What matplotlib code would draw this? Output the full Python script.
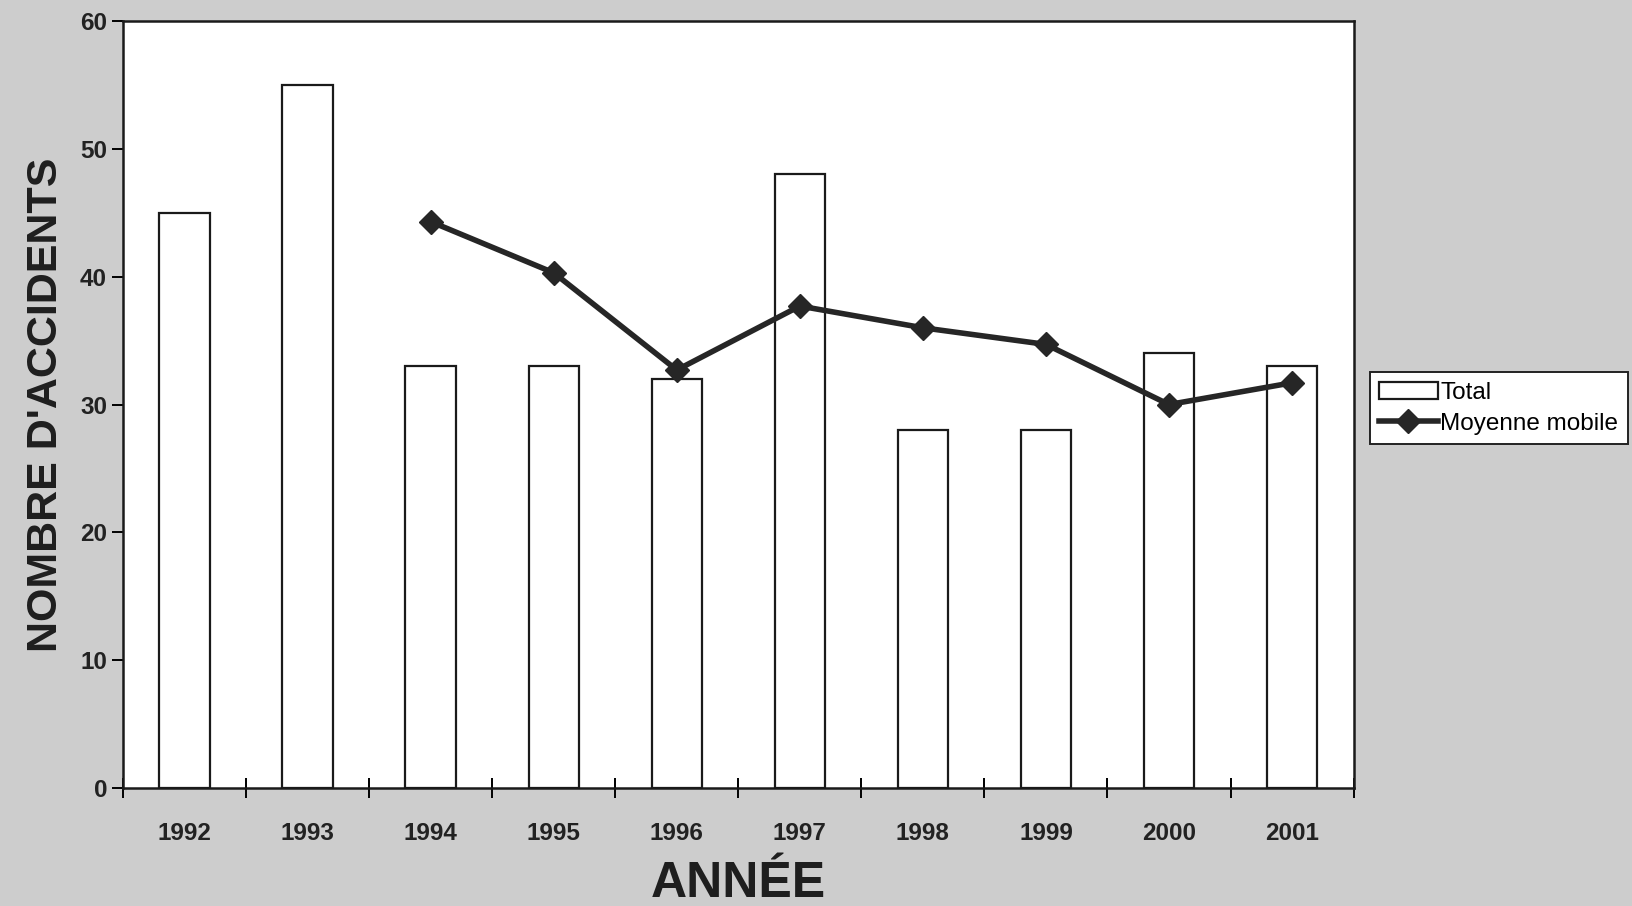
import numpy as np
import matplotlib.pyplot as plt

annees = ['1992', '1993', '1994', '1995', '1996', '1997', '1998', '1999', '2000', '2001']
total = [45, 55, 33, 33, 32, 48, 28, 28, 34, 33]
# moyenne mobile (3 ans), debute en 1994
annees_mm = ['1994', '1995', '1996', '1997', '1998', '1999', '2000', '2001']
moyenne_mobile = [44.3, 40.3, 32.7, 37.7, 36.0, 34.7, 30.0, 31.7]

plt.rcParams['font.family'] = ['Liberation Sans', 'DejaVu Sans']

fig = plt.figure(figsize=(16.32, 9.06), dpi=100)
fig.patch.set_facecolor('#cdcdcd')
ax = fig.add_axes([0.0754, 0.130, 0.754, 0.847])
ax.set_facecolor('white')

x = np.arange(len(annees))
barres = ax.bar(x, total, width=0.41, color='white', edgecolor='#1a1a1a', linewidth=1.6, label='Total')
x_mm = [annees.index(a) for a in annees_mm]
ligne, = ax.plot(x_mm, moyenne_mobile, color='#262626', linewidth=4, marker='D', markersize=12,
                 label='Moyenne mobile')

ax.set_xlim(-0.5, len(annees) - 0.5)
ax.set_ylim(0, 60)
ax.set_yticks(range(0, 61, 10))
ax.set_xticks(x)
ax.set_xticklabels(annees)
ax.set_xticks(np.arange(-0.5, len(annees), 1), minor=True)
ax.tick_params(axis='x', which='major', length=0, pad=24, labelsize=17.5)
ax.tick_params(axis='x', which='minor', length=14, direction='inout', width=1.4)
ax.tick_params(axis='y', length=8, direction='out', width=1.4, labelsize=17.5)
for lab in ax.get_xticklabels() + ax.get_yticklabels():
    lab.set_color('#222222')
    lab.set_fontweight('bold')
for sp in ax.spines.values():
    sp.set_linewidth(1.8)
    sp.set_color('#1a1a1a')

ax.set_xlabel('ANNÉE', fontsize=36, fontweight='bold', color='#1e1e1e', labelpad=12)
ax.set_ylabel("NOMBRE D'ACCIDENTS", fontsize=31, fontweight='bold', color='#1e1e1e', labelpad=10)

leg = ax.legend([barres, ligne], ['Total', 'Moyenne mobile'],
                loc='center left', bbox_to_anchor=(1.013, 0.495), fontsize=17.5, frameon=True,
                fancybox=False, edgecolor='#222222', framealpha=1, handlelength=2.4,
                handletextpad=0.1, borderpad=0.4, borderaxespad=0, labelspacing=0.35)
leg.get_frame().set_linewidth(1.4)

fig.savefig('out.png', dpi=100, facecolor=fig.get_facecolor())
